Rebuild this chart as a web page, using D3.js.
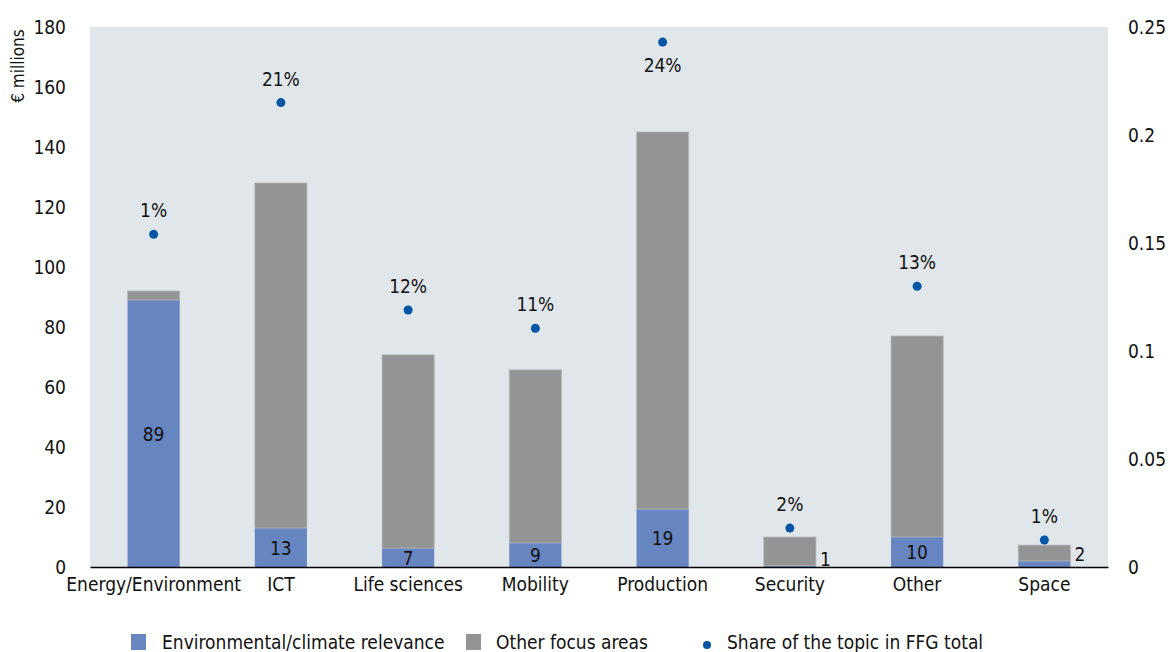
<!DOCTYPE html>
<html>
<head>
<meta charset="utf-8">
<script src="https://cdn.jsdelivr.net/npm/d3@7"></script>
<style>
  body { margin: 0; background: #fff; }
  svg { display: block; font-family: "DejaVu Sans Condensed", "DejaVu Sans", sans-serif; font-stretch: condensed; }
  svg text { font-stretch: condensed; }
</style>
</head>
<body>
<svg></svg>
<script>
const categories = ["Energy/Environment", "ICT", "Life sciences", "Mobility", "Production", "Security", "Other", "Space"];
const envValues = [89, 13, 6.3, 8, 19.3, 0.4, 10, 2];
const otherValues = [3, 115, 64.4, 57.7, 125.7, 9.6, 67, 5.3];
const envLabels = ["89", "13", "7", "9", "19", "1", "10", "2"];
const shareValues = [0.154, 0.215, 0.119, 0.1105, 0.243, 0.018, 0.13, 0.0125];
const shareLabels = ["1%", "21%", "12%", "11%", "24%", "2%", "13%", "1%"];
const leftTicks = [0, 20, 40, 60, 80, 100, 120, 140, 160, 180];
const rightTicks = [0, 0.05, 0.1, 0.15, 0.2, 0.25];

const width = 1168, height = 652;
const plotL = 90, plotR = 1108, plotT = 27, plotB = 567;
const fontFam = "DejaVu Sans Condensed, DejaVu Sans, sans-serif";
const svg = d3.select("svg").attr("width", width).attr("height", height);

const x = d3.scaleBand().domain(categories).range([plotL, plotR]).paddingInner(0.59).paddingOuter(0.295);
const y = d3.scaleLinear().domain([0, 180]).range([plotB, plotT]);
const y2 = d3.scaleLinear().domain([0, 0.25]).range([plotB, plotT]);

// plot background
svg.append("rect").attr("x", plotL).attr("y", plotT).attr("width", plotR - plotL).attr("height", plotB - plotT).attr("fill", "#e1e6ea");

const data = categories.map((c, i) => ({ c, env: envValues[i], other: otherValues[i], lab: envLabels[i], share: shareValues[i], slab: shareLabels[i] }));

// stacked bars
svg.selectAll(".env").data(data).enter().append("rect")
  .attr("x", d => x(d.c)).attr("width", x.bandwidth())
  .attr("y", d => y(d.env)).attr("height", d => y(0) - y(d.env))
  .attr("fill", "#6786c1");
svg.selectAll(".oth").data(data).enter().append("rect")
  .attr("x", d => x(d.c)).attr("width", x.bandwidth())
  .attr("y", d => y(d.env + d.other)).attr("height", d => y(d.env) - y(d.env + d.other))
  .attr("fill", "#939594").attr("stroke", "#b4b7b8").attr("stroke-width", 0.8);

// env value labels
svg.selectAll(".elab").data(data).enter().append("text")
  .attr("x", d => d.env < 3 ? x(d.c) + x.bandwidth() + 4 : x(d.c) + x.bandwidth() / 2)
  .attr("y", d => d.env < 3 ? (d.c === "Space" ? y(4.5) : y(0) - 1) : y(d.env / 2))
  .attr("text-anchor", d => d.env < 3 ? "start" : "middle")
  .attr("dominant-baseline", d => d.env < 3 && d.c !== "Space" ? "auto" : "central")
  .attr("font-size", 19).attr("fill", "#111")
  .text(d => d.lab);

// share dots
svg.selectAll(".dot").data(data).enter().append("circle")
  .attr("cx", d => x(d.c) + x.bandwidth() / 2).attr("cy", d => y2(d.share))
  .attr("r", 4.5).attr("fill", "#0055a4");
// label sits above the dot, or below when the dot is near the top edge
svg.selectAll(".slab").data(data).enter().append("text")
  .attr("x", d => x(d.c) + x.bandwidth() / 2)
  .attr("y", d => y2(d.share) > plotT + 40 ? y2(d.share) - 17 : y2(d.share) + 30)
  .attr("text-anchor", "middle").attr("font-size", 19).attr("fill", "#111")
  .text(d => d.slab);

// axes
const axL = svg.append("g").attr("transform", `translate(${plotL},0)`)
  .call(d3.axisLeft(y).tickValues(leftTicks).tickSize(0).tickPadding(24));
axL.select(".domain").remove();
const axR = svg.append("g").attr("transform", `translate(${plotR},0)`)
  .call(d3.axisRight(y2).tickValues(rightTicks).tickSize(0).tickPadding(20).tickFormat(d => String(+d.toFixed(2))));
axR.select(".domain").remove();
const axB = svg.append("g").attr("transform", `translate(0,${plotB})`)
  .call(d3.axisBottom(x).tickSize(0).tickPadding(11));
axB.select(".domain").attr("stroke", "#000").attr("stroke-width", 1.5);
svg.selectAll(".tick text").attr("font-family", fontFam)
  .attr("font-size", 19).attr("fill", "#111");

// y title
svg.append("text").attr("transform", "translate(24,66) rotate(-90)")
  .attr("text-anchor", "middle").attr("font-size", 17).attr("fill", "#111").text("€ millions");

// legend
const legend = svg.append("g").attr("font-size", 19).attr("fill", "#111");
legend.append("rect").attr("x", 131).attr("y", 634).attr("width", 15).attr("height", 16).attr("fill", "#6786c1");
legend.append("text").attr("x", 162).attr("y", 649).text("Environmental/climate relevance");
legend.append("rect").attr("x", 466).attr("y", 634).attr("width", 15).attr("height", 16).attr("fill", "#939594");
legend.append("text").attr("x", 496).attr("y", 649).text("Other focus areas");
legend.append("circle").attr("cx", 707).attr("cy", 645).attr("r", 4).attr("fill", "#0055a4");
legend.append("text").attr("x", 727).attr("y", 649).text("Share of the topic in FFG total");
</script>
</body>
</html>
